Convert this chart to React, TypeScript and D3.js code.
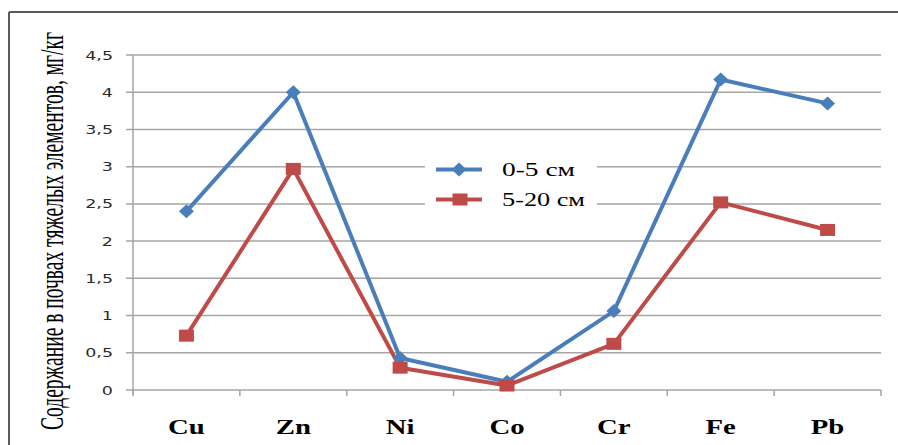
import React from "react";
import * as d3 from "d3";

const categories = ["Cu", "Zn", "Ni", "Co", "Cr", "Fe", "Pb"];
const series1Name = "0-5 см";
const series2Name = "5-20 см";
const series1 = [2.4, 4.0, 0.43, 0.11, 1.06, 4.17, 3.85];
const series2 = [0.73, 2.97, 0.3, 0.06, 0.62, 2.52, 2.15];
const yTicks = [0, 0.5, 1, 1.5, 2, 2.5, 3, 3.5, 4, 4.5];
const yTitle = "Содержание в почвах тяжелых элементов, мг/кг";

const W = 898;
const H = 445;
const BLUE = "#4a7ebb";
const RED = "#be4b48";
const GRID = "#a6a6a6";

export default function App() {
  const x = d3.scaleBand<string>().domain(categories).range([133, 881]);
  const y = d3.scaleLinear().domain([0, 4.5]).range([390, 55]);
  const cx = (c: string) => (x(c) as number) + x.bandwidth() / 2;
  const line = d3
    .line<number>()
    .x((_, i) => cx(categories[i]))
    .y((d) => y(d));
  const fmt = (v: number) => String(v).replace(".", ",");
  const boundaries = categories.map((c) => x(c) as number).concat([881]);

  const legend = { x0: 425, x1: 597, y0: 150, y1: 216 };

  const diamond = (px: number, py: number, key: string) => (
    <path
      key={key}
      d={`M${px},${py - 7}L${px + 7.5},${py}L${px},${py + 7}L${px - 7.5},${py}Z`}
      fill={BLUE}
    />
  );
  const square = (px: number, py: number, key: string) => (
    <rect key={key} x={px - 7.5} y={py - 6} width={15} height={12} fill={RED} />
  );

  return (
    <svg
      width={W}
      height={H}
      style={{ position: "absolute", left: 0, top: 0, background: "#fff" }}
    >
      {/* frame */}
      <line x1={9} y1={12} x2={W} y2={12} stroke="#5a5a5a" strokeWidth={2} />
      <line x1={9} y1={12} x2={9} y2={H} stroke="#5a5a5a" strokeWidth={2} />

      {/* gridlines */}
      {yTicks.map((t) =>
        t === 0 ? null : (
          <line
            key={"g" + t}
            x1={126}
            x2={881}
            y1={y(t)}
            y2={y(t)}
            stroke={GRID}
            strokeWidth={1.5}
          />
        )
      )}
      {/* axes */}
      <line x1={133} x2={133} y1={55} y2={395} stroke={GRID} strokeWidth={1.5} />
      <line x1={126} x2={881} y1={390} y2={390} stroke={GRID} strokeWidth={1.5} />
      {boundaries.map((b, i) => (
        <line key={"t" + i} x1={b} x2={b} y1={390} y2={396} stroke={GRID} strokeWidth={1.5} />
      ))}

      {/* y tick labels */}
      {yTicks.map((t) => (
        <text
          key={"l" + t}
          transform={`translate(113,${y(t) + 4.5}) scale(1.4,1)`}
          textAnchor="end"
          fontFamily="DejaVu Sans, Verdana, sans-serif"
          fontSize={12.5}
          fill="#2a2a2a"
        >
          {fmt(t)}
        </text>
      ))}

      {/* y title */}
      <text
        transform={`translate(63,231) scale(1.65,1) rotate(-90)`}
        textAnchor="middle"
        fontFamily="Liberation Serif, Times New Roman, serif"
        fontSize={20}
        textLength={398}
        lengthAdjust="spacingAndGlyphs"
        fill="#000"
      >
        {yTitle}
      </text>

      {/* category labels */}
      {categories.map((c) => (
        <text
          key={"c" + c}
          transform={`translate(${cx(c)},434) scale(1.37,1)`}
          textAnchor="middle"
          fontFamily="Liberation Serif, Times New Roman, serif"
          fontWeight="bold"
          fontSize={21}
          fill="#000"
        >
          {c}
        </text>
      ))}

      {/* legend background */}
      <rect
        x={legend.x0}
        y={legend.y0}
        width={legend.x1 - legend.x0}
        height={legend.y1 - legend.y0}
        fill="#fff"
      />

      {/* series lines */}
      <path d={line(series1) || ""} fill="none" stroke={BLUE} strokeWidth={4} strokeLinejoin="round" />
      <path d={line(series2) || ""} fill="none" stroke={RED} strokeWidth={4} strokeLinejoin="round" />
      {series1.map((v, i) => diamond(cx(categories[i]), y(v), "d" + i))}
      {series2.map((v, i) => square(cx(categories[i]), y(v), "s" + i))}

      {/* legend */}
      <line x1={436} x2={482} y1={169.5} y2={169.5} stroke={BLUE} strokeWidth={4} />
      {diamond(459, 169.5, "ld")}
      <text
        x={502}
        y={176}
        fontFamily="Liberation Serif, Times New Roman, serif"
        fontSize={19}
        textLength={73}
        lengthAdjust="spacingAndGlyphs"
        fill="#000"
      >
        {series1Name}
      </text>
      <line x1={436} x2={482} y1={199.5} y2={199.5} stroke={RED} strokeWidth={4} />
      {square(460, 199.5, "ls")}
      <text
        x={502}
        y={206}
        fontFamily="Liberation Serif, Times New Roman, serif"
        fontSize={19}
        textLength={83}
        lengthAdjust="spacingAndGlyphs"
        fill="#000"
      >
        {series2Name}
      </text>
    </svg>
  );
}
